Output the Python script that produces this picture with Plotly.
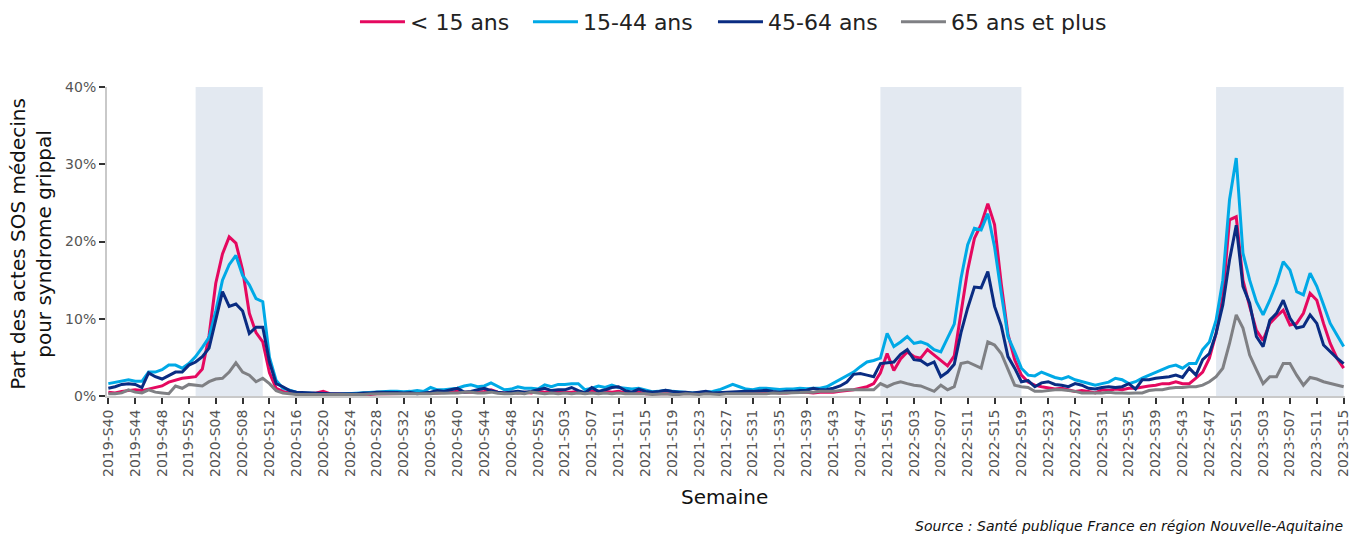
import plotly.graph_objects as go

# ---- categories: ISO weeks 2019-S40 .. 2023-S15 ----
weeks_per_year = {2019: 52, 2020: 53, 2021: 52, 2022: 52, 2023: 15}
semaines = []
for yr, nw in weeks_per_year.items():
    start = 40 if yr == 2019 else 1
    for w in range(start, nw + 1):
        semaines.append(f"{yr}-S{w:02d}")

# ---- series (% of SOS médecins acts for flu-like illness) ----
moins_15 = [
    0.5, 0.4, 0.6, 0.7, 0.8, 0.7, 0.9, 1.1, 1.3, 1.8, 2.1, 2.3, 2.4, 2.5, 3.5, 7.8, 14.6, 18.4, 20.6, 19.8, 16.3, 10.7, 8.2, 7.0, 3.0, 1.0,
    0.6, 0.4, 0.3, 0.3, 0.3, 0.4, 0.6, 0.3, 0.25, 0.2,
    0.2, 0.2, 0.25, 0.2, 0.3, 0.3, 0.3, 0.3, 0.3, 0.3,
    0.3, 0.35, 0.4, 0.4, 0.5, 0.5, 0.6, 0.5, 0.5, 0.5,
    0.6, 0.8, 0.5, 0.4, 0.5, 0.4, 0.5, 0.4, 0.6, 0.5,
    0.6, 0.5, 0.5, 0.5, 0.6, 0.4, 0.7, 0.5, 0.6, 0.5,
    0.6, 0.4, 0.4, 0.5, 0.3, 0.3, 0.3, 0.3, 0.3, 0.3,
    0.3, 0.3, 0.3, 0.35, 0.3, 0.3, 0.35, 0.3, 0.3, 0.3,
    0.3, 0.35, 0.4, 0.5, 0.4, 0.4, 0.5, 0.5, 0.5, 0.4,
    0.5, 0.5, 0.5, 0.6, 0.7, 0.8, 1.0,
    1.2, 1.6, 3.0, 5.5, 3.3, 4.8, 5.7, 5.1, 4.9, 6.0, 5.3, 4.6, 3.9, 5.2, 11.0, 16.3, 20.4, 22.2, 24.9, 22.2,
    14.5, 8.0, 4.7, 2.7, 1.8, 1.4, 1.2, 1.0, 0.9, 1.0, 0.8,
    0.6, 0.7, 0.6, 0.4, 0.8, 0.7, 0.9, 0.8, 1.0, 1.0, 1.2, 1.3, 1.4, 1.6, 1.6, 1.85, 1.6, 1.6, 2.3, 3.1,
    4.9, 8.1, 12.9, 22.8, 23.2, 15.0, 11.6, 8.5, 7.2, 9.4, 10.3, 11.1, 9.2, 9.4, 10.7, 13.3, 12.4, 9.4, 6.8, 4.9, 3.6,
]
ans_15_44 = [
    1.6, 1.8, 2.0, 2.1, 1.9, 1.9, 3.1, 3.1, 3.4, 4.0, 4.0, 3.6, 4.2, 5.1, 6.3, 7.6, 11.0, 15.0, 17.0, 18.2, 15.6, 14.4, 12.6, 12.2, 5.0, 2.0,
    1.0, 0.7, 0.5, 0.4, 0.35, 0.3, 0.3, 0.2, 0.2, 0.25,
    0.3, 0.35, 0.4, 0.5, 0.55, 0.6, 0.6, 0.6, 0.55, 0.6,
    0.7, 0.6, 1.1, 0.8, 0.8, 0.9, 1.0, 1.3, 1.45, 1.2,
    1.3, 1.7, 1.2, 0.8, 0.9, 1.2, 1.0, 1.0, 0.9, 1.45,
    1.2, 1.5, 1.5, 1.6, 1.6, 0.8, 1.0, 1.3, 1.1, 1.4,
    1.1, 1.0, 0.9, 1.0, 0.8, 0.55, 0.6, 0.75, 0.6, 0.55,
    0.5, 0.4, 0.45, 0.55, 0.6, 0.8, 1.2, 1.5, 1.2, 0.9,
    0.8, 1.0, 1.0, 0.9, 0.85, 0.9, 0.9, 1.0, 0.95, 1.0,
    1.0, 1.2, 1.7, 2.2, 2.6, 3.1, 3.8,
    4.4, 4.6, 4.9, 8.1, 6.4, 7.0, 7.7, 6.8, 7.0, 6.7, 6.0, 5.7, 7.4, 9.3, 15.2, 19.6, 21.7, 21.5, 23.6, 19.3,
    13.3, 7.7, 5.7, 3.6, 2.7, 2.6, 3.1, 2.7, 2.4, 2.2, 2.5,
    2.1, 1.85, 1.6, 1.4, 1.6, 1.8, 2.3, 2.1, 1.6, 1.85, 2.3, 2.7, 3.1, 3.4, 3.8, 4.0, 3.6, 4.2, 4.2, 6.0,
    7.0, 9.8, 15.0, 25.4, 30.8, 18.5, 15.0, 12.2, 10.5, 12.4, 14.6, 17.4, 16.3, 13.5, 13.1, 15.9, 14.2, 11.8, 9.4, 7.9, 6.4,
]
ans_45_64 = [
    1.0, 1.2, 1.5, 1.6, 1.5, 1.1, 3.0, 2.5, 2.2, 2.7, 3.1, 3.1, 4.0, 4.4, 5.1, 6.2, 10.0, 13.5, 11.6, 11.9, 11.0, 8.1, 8.9, 8.9, 4.4, 1.6,
    1.2, 0.7, 0.5, 0.45, 0.4, 0.35, 0.3, 0.3, 0.3, 0.3,
    0.35, 0.3, 0.4, 0.4, 0.5, 0.5, 0.5, 0.45, 0.4, 0.45,
    0.3, 0.4, 0.5, 0.7, 0.6, 0.8, 1.0, 0.5, 0.6, 0.8,
    1.0, 0.7, 0.5, 0.4, 0.5, 0.6, 0.5, 0.6, 0.8, 1.0,
    0.7, 0.8, 0.8, 1.1, 0.7, 0.4, 1.1, 0.6, 0.8, 1.1,
    1.2, 0.7, 0.5, 0.9, 0.6, 0.5, 0.6, 0.75, 0.6, 0.5,
    0.5, 0.4, 0.5, 0.6, 0.4, 0.45, 0.5, 0.5, 0.55, 0.6,
    0.6, 0.65, 0.75, 0.6, 0.5, 0.6, 0.6, 0.7, 0.75, 1.0,
    0.8, 0.85, 1.0, 1.3, 1.8, 2.8, 2.9,
    2.7, 2.5, 4.2, 4.3, 4.4, 5.4, 6.0, 4.7, 4.6, 4.0, 4.4, 2.5, 3.1, 4.1, 8.2, 11.4, 14.1, 14.0, 16.1, 11.6,
    9.1, 5.1, 3.6, 1.85, 2.0, 1.2, 1.7, 1.85, 1.5, 1.4, 1.2,
    1.6, 1.4, 1.0, 0.9, 1.1, 1.2, 1.1, 1.2, 1.6, 0.9, 2.1, 2.1, 2.3, 2.4, 2.5, 2.7, 2.4, 3.6, 2.7, 4.7,
    5.5, 8.1, 11.8, 17.6, 22.1, 14.2, 12.0, 7.7, 6.4, 9.8, 10.7, 12.4, 10.1, 8.8, 9.0, 10.5, 9.4, 6.6, 5.7, 4.9, 4.2,
]
ans_65_plus = [
    0.3, 0.3, 0.4, 0.8, 0.5, 0.4, 0.8, 0.5, 0.4, 0.3, 1.3, 1.0, 1.5, 1.4, 1.3, 1.85, 2.2, 2.3, 3.1, 4.3, 3.1, 2.7, 1.85, 2.3, 1.6, 0.7,
    0.4, 0.3, 0.2, 0.2, 0.2, 0.2, 0.2, 0.15, 0.15, 0.2,
    0.2, 0.2, 0.2, 0.25, 0.3, 0.3, 0.3, 0.3, 0.3, 0.3,
    0.35, 0.3, 0.3, 0.4, 0.35, 0.4, 0.4, 0.5, 0.5, 0.4,
    0.4, 0.5, 0.35, 0.3, 0.3, 0.4, 0.3, 0.5, 0.4, 0.3,
    0.4, 0.3, 0.4, 0.3, 0.4, 0.3, 0.4, 0.3, 0.4, 0.3,
    0.4, 0.3, 0.3, 0.3, 0.3, 0.2, 0.25, 0.3, 0.2, 0.2,
    0.3, 0.25, 0.2, 0.3, 0.25, 0.2, 0.3, 0.3, 0.3, 0.3,
    0.3, 0.3, 0.3, 0.4, 0.35, 0.4, 0.4, 0.45, 0.5, 0.5,
    0.6, 0.6, 0.6, 0.7, 0.8, 0.8, 0.8,
    0.8, 0.8, 1.6, 1.2, 1.6, 1.85, 1.6, 1.4, 1.3, 1.0, 0.6, 1.4, 0.8, 1.2, 4.2, 4.4, 4.0, 3.6, 7.0, 6.6,
    5.5, 3.4, 1.4, 1.2, 1.1, 0.6, 0.6, 0.7, 0.8, 0.8, 0.7,
    0.6, 0.4, 0.4, 0.4, 0.4, 0.5, 0.4, 0.4, 0.35, 0.4, 0.4, 0.7, 0.8, 0.8, 1.0, 1.1, 1.1, 1.2, 1.2, 1.4,
    1.85, 2.5, 3.6, 6.8, 10.5, 8.8, 5.3, 3.4, 1.6, 2.5, 2.5, 4.2, 4.2, 2.7, 1.4, 2.4, 2.2, 1.85, 1.6, 1.4, 1.2,
]

series_names = ["< 15 ans", "15-44 ans", "45-64 ans", "65 ans et plus"]
series_values = [moins_15, ans_15_44, ans_45_64, ans_65_plus]
series_colors = ["#E5085F", "#00A9E6", "#0A2C82", "#7F8084"]
legend_widths = [113, 125, 123, 160]

# epidemic periods (shaded)
epidemies = [("2020-S01", "2020-S11"), ("2021-S50", "2022-S19"), ("2022-S48", "2023-S15")]

tick_labels = semaines[::4]
y_ticks = [0, 10, 20, 30, 40]

FONT = "DejaVu Sans"

fig = go.Figure()
for name, vals, col, lw in zip(series_names, series_values, series_colors, legend_widths):
    fig.add_trace(go.Scatter(
        x=semaines, y=vals, name=name, mode="lines",
        line=dict(color=col, width=3), legendwidth=lw,
    ))

for x0, x1 in epidemies:
    fig.add_shape(type="rect", xref="x", yref="paper", x0=x0, x1=x1, y0=0, y1=1,
                  fillcolor="#E3E9F1", line=dict(width=0), layer="below")

fig.update_layout(
    width=1357, height=536,
    margin=dict(l=107, r=12, t=87, b=140, autoexpand=False),
    paper_bgcolor="white", plot_bgcolor="white",
    font=dict(family=FONT, color="#222222"),
    showlegend=True,
    legend=dict(orientation="h", x=0.2003, xanchor="left", y=1.2104, yanchor="middle",
                font=dict(size=22, color="#222222"), itemwidth=45,
                bgcolor="rgba(0,0,0,0)"),
    xaxis=dict(
        type="category", range=[-0.2, len(semaines) - 0.8],
        tickmode="array", tickvals=tick_labels, ticktext=tick_labels,
        tickangle=-90, tickfont=dict(size=14, color="#555555"),
        ticks="outside", ticklen=6, tickwidth=2, tickcolor="#333333",
        showline=True, linecolor="#C9C9C9", linewidth=2,
        showgrid=False, zeroline=False, automargin=False,
    ),
    yaxis=dict(
        range=[0, 40], tickmode="array", tickvals=y_ticks,
        ticktext=[f"{v}%" for v in y_ticks],
        tickfont=dict(size=14, color="#555555"),
        ticks="outside", ticklen=6, tickwidth=2, tickcolor="#333333",
        showline=True, linecolor="#C9C9C9", linewidth=2,
        showgrid=False, zeroline=False, automargin=False,
    ),
    annotations=[
        dict(text="Part des actes SOS médecins<br>pour syndrome grippal",
             xref="paper", yref="paper", x=-0.0615, y=0.492, xanchor="center", yanchor="middle",
             textangle=-90, showarrow=False, font=dict(size=20, color="#111111")),
        dict(text="Semaine", xref="paper", yref="paper", x=0.4985, y=-0.327,
             xanchor="center", yanchor="middle", showarrow=False,
             font=dict(size=20, color="#111111")),
        dict(text="<i>Source : Santé publique France en région Nouvelle-Aquitaine</i>",
             xref="paper", yref="paper", x=1.0, y=-0.42, xanchor="right", yanchor="middle",
             showarrow=False, font=dict(size=14, color="#111111")),
    ],
)

fig.write_html("out.html", config={"displayModeBar": False},
               post_script="document.body.style.margin='0';document.body.style.overflow='hidden';")
